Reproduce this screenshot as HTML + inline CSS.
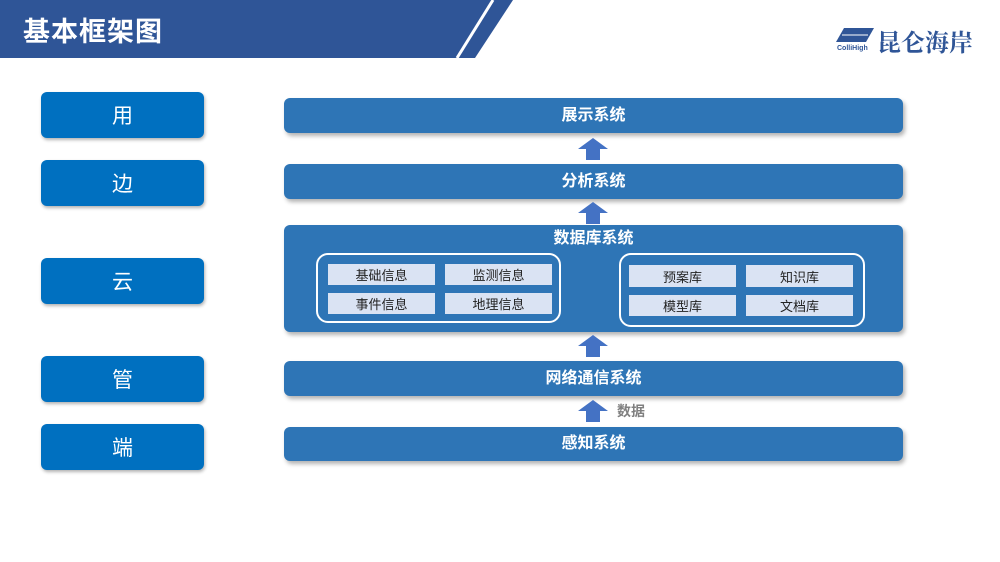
<!DOCTYPE html>
<html><head><meta charset="utf-8"><style>
body{margin:0;width:1000px;height:562px;background:#fff;position:relative;overflow:hidden;font-family:"Liberation Sans","Noto Sans CJK SC",sans-serif}
.a{position:absolute}
.lb{position:absolute;left:41px;width:163px;height:46px;background:#0070C0;border-radius:6px;color:#fff;font-size:21px;display:flex;align-items:center;justify-content:center;box-shadow:1px 2px 3px rgba(0,0,0,.3)}
.bar{position:absolute;left:284px;width:619px;background:#2E75B6;border-radius:6px;color:#fff;font-weight:bold;font-size:16px;display:flex;align-items:center;justify-content:center;box-shadow:2px 3px 4px rgba(0,0,0,.3);line-height:1}
.it{position:absolute;width:107px;height:21px;background:#DAE3F3;color:#222;font-size:13px;display:flex;align-items:center;justify-content:center}
.grp{position:absolute;border:2px solid #fff;border-radius:12px}
.ar{position:absolute;left:578px;width:30px;height:22px}
</style></head><body>
<svg class="a" style="left:0;top:0" width="520" height="64">
<polygon points="0,0 513,0 475,58 0,58" fill="#2F5597"/>
<line x1="493" y1="0" x2="457" y2="58" stroke="#fff" stroke-width="3"/>
</svg>
<div class="a" style="left:23px;top:10px;color:#fff;font-size:27px;font-weight:bold;letter-spacing:1px">基本框架图</div>
<svg class="a" style="left:836px;top:26px" width="40" height="26"><polygon points="8,2 38,2 30,16 0,16" fill="#2F5597"/><line x1="6" y1="9" x2="32" y2="9" stroke="#fff" stroke-width="1"/><text x="1" y="24" font-size="7" font-weight="bold" fill="#2F5597" font-family="Liberation Sans">ColliHigh</text></svg>
<div class="a" style="left:877px;top:23px;color:#2F5597;font-size:24px;font-weight:bold;font-family:'Liberation Serif','Noto Serif CJK SC',serif">昆仑海岸</div>

<div class="lb" style="top:92px">用</div>
<div class="lb" style="top:160px">边</div>
<div class="lb" style="top:258px">云</div>
<div class="lb" style="top:356px">管</div>
<div class="lb" style="top:424px">端</div>

<div class="bar" style="top:98px;height:35px">展示系统</div>
<div class="bar" style="top:164px;height:35px">分析系统</div>
<div class="bar" style="top:225px;height:107px;align-items:flex-start;padding-top:6px;box-sizing:border-box">数据库系统</div>
<div class="bar" style="top:361px;height:35px">网络通信系统</div>
<div class="bar" style="top:427px;height:34px">感知系统</div>

<div class="grp" style="left:316px;top:253px;width:241px;height:66px"></div>
<div class="grp" style="left:619px;top:253px;width:242px;height:70px"></div>
<div class="it" style="left:328px;top:264px">基础信息</div>
<div class="it" style="left:445px;top:264px">监测信息</div>
<div class="it" style="left:328px;top:293px">事件信息</div>
<div class="it" style="left:445px;top:293px">地理信息</div>
<div class="it" style="left:629px;top:265px;height:22px">预案库</div>
<div class="it" style="left:746px;top:265px;height:22px">知识库</div>
<div class="it" style="left:629px;top:295px;height:21px">模型库</div>
<div class="it" style="left:746px;top:295px;height:21px">文档库</div>

<svg class="ar" style="top:138px" viewBox="0 0 30 22"><polygon points="15,0 30,11 22,11 22,22 8,22 8,11 0,11" fill="#4472C4"/></svg>
<svg class="ar" style="top:202px" viewBox="0 0 30 22"><polygon points="15,0 30,11 22,11 22,22 8,22 8,11 0,11" fill="#4472C4"/></svg>
<svg class="ar" style="top:335px" viewBox="0 0 30 22"><polygon points="15,0 30,11 22,11 22,22 8,22 8,11 0,11" fill="#4472C4"/></svg>
<svg class="ar" style="top:400px" viewBox="0 0 30 22"><polygon points="15,0 30,11 22,11 22,22 8,22 8,11 0,11" fill="#4472C4"/></svg>
<div class="a" style="left:617px;top:401px;color:#7F7F7F;font-size:14px;font-weight:bold">数据</div>
</body></html>
